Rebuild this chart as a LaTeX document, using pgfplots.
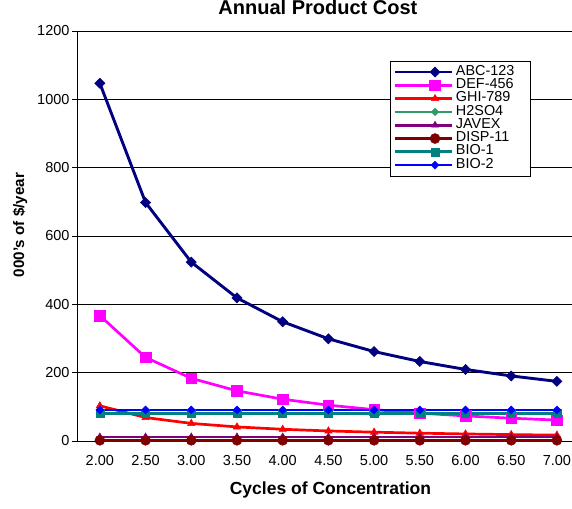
\documentclass[border=0pt]{standalone}
\usepackage{pgfplots}
\pgfplotsset{compat=1.18}
\usepackage{fontspec}
\setmainfont{Liberation Sans}
\definecolor{cNavy}{RGB}{0,0,128}
\definecolor{cMag}{RGB}{255,0,255}
\definecolor{cRed}{RGB}{255,0,0}
\definecolor{cSea}{RGB}{51,153,102}
\definecolor{cPur}{RGB}{128,0,128}
\definecolor{cMar}{RGB}{128,0,0}
\definecolor{cTeal}{RGB}{0,128,128}
\definecolor{cBlue}{RGB}{0,0,255}
\begin{document}
\begin{tikzpicture}[x=1pt,y=1pt]
\useasboundingbox (0,0) rectangle (572,508);
\begin{axis}[
  at={(77pt,67pt)}, anchor=south west,
  scale only axis, width=495pt, height=410pt,
  xmin=-0.5, xmax=10.33, ymin=0, ymax=1200,
  axis x line*=bottom, axis y line*=left,
  axis line style={black, line width=0.9pt},
  clip=false,
  /pgf/number format/assume math mode=true,
  /pgf/number format/set thousands separator={},
  ticklabel style={font=\fontsize{14.5}{16}\selectfont},
  xticklabel style={yshift=-6pt},
  yticklabel style={xshift=1pt},
  ytick={0,200,...,1200},
  ymajorgrids, major grid style={black, line width=0.8pt},
  tick align=outside, major tick length=5pt,
  tick style={black, line width=0.8pt},
  xtick={0,...,10},
  xticklabels={2.00,2.50,3.00,3.50,4.00,4.50,5.00,5.50,6.00,6.50,7.00},
  xtick style={draw=none},
  extra x ticks={-0.5,0.5,1.5,2.5,3.5,4.5,5.5,6.5,7.5,8.5,9.5},
  extra x tick labels={},
  extra x tick style={grid=none, tick style={draw=black, line width=0.8pt}},
  legend cell align=left,
  legend image code/.code={
    \path (-23.7pt,0pt) -- (0pt,0pt);
    \draw[mark repeat=2,mark phase=2,#1] plot coordinates {(0pt,0pt)(16.5pt,0pt)(33pt,0pt)};
  },
  legend style={at={(rel axis cs:0.6323,0.9276)}, anchor=north west,
    draw=black, line width=0.8pt, inner xsep=3pt, inner ysep=4.3pt,
    row sep=0pt, column sep=3pt,
    font=\fontsize{14.4}{14.4}\selectfont,
    nodes={inner sep=0pt, text height=9.8pt, text depth=3.5pt}},
]
\addplot[cNavy, line width=2.9pt, mark=square*, mark size=3.6pt, mark options={rotate=45, solid, line width=0.5pt}] coordinates {
(0,1047) (1,698) (2,523.5) (3,418.8) (4,349) (5,299.1) (6,261.8) (7,232.7) (8,209.4) (9,190.4) (10,174.5)};
\addlegendentry{ABC-123\hspace*{13pt}}
\addplot[cMag, line width=2.7pt, mark=square*, mark size=5.3pt, mark options={solid, line width=0.5pt}] coordinates {
(0,367) (1,244.7) (2,183.5) (3,146.8) (4,122.3) (5,104.9) (6,91.8) (7,81.6) (8,73.4) (9,66.7) (10,61.2)};
\addlegendentry{DEF-456}
\addplot[cRed, line width=2.7pt, mark=triangle*, mark size=4.2pt, mark options={solid, line width=0.5pt}] coordinates {
(0,103) (1,68.7) (2,51.5) (3,41.2) (4,34.3) (5,29.4) (6,25.8) (7,22.9) (8,20.6) (9,18.7) (10,17.2)};
\addlegendentry{GHI-789}
\addplot[cSea, line width=2.7pt, mark=square*, mark size=2.6pt, mark options={rotate=45, solid, line width=0.5pt}] coordinates {
(0,81) (1,81) (2,81) (3,81) (4,81) (5,81) (6,81) (7,81) (8,81) (9,81) (10,81)};
\addlegendentry{H2SO4}
\addplot[cPur, line width=2.7pt, mark=triangle*, mark size=4pt, mark options={solid, line width=0.5pt}] coordinates {
(0,12) (1,12) (2,12) (3,12) (4,12) (5,12) (6,12) (7,12) (8,12) (9,12) (10,12)};
\addlegendentry{JAVEX}
\addplot[cMar, line width=2.7pt, mark=*, mark size=5pt, mark options={solid, line width=0.5pt}] coordinates {
(0,2) (1,2) (2,2) (3,2) (4,2) (5,2) (6,2) (7,2) (8,2) (9,2) (10,2)};
\addlegendentry{DISP-11}
\addplot[cTeal, line width=2.7pt, mark=square*, mark size=4pt, mark options={solid, line width=0.5pt}] coordinates {
(0,81) (1,81) (2,81) (3,81) (4,81) (5,81) (6,81) (7,81) (8,81) (9,81) (10,81)};
\addlegendentry{BIO-1}
\addplot[cBlue, line width=2.7pt, mark=square*, mark size=2.8pt, mark options={rotate=45, solid, line width=0.5pt}] coordinates {
(0,91) (1,91) (2,91) (3,91) (4,91) (5,91) (6,91) (7,91) (8,91) (9,91) (10,91)};
\addlegendentry{BIO-2}
\end{axis}
\node[anchor=base, font=\fontsize{20}{22}\selectfont\bfseries] at (317.9,493) {Annual Product Cost};
\node[anchor=base, font=\fontsize{17.5}{19}\selectfont\bfseries] at (330.5,13.8) {Cycles of Concentration};
\node[anchor=base, rotate=90, font=\fontsize{15.2}{17}\selectfont\bfseries] at (24,283) {000's of \$/year};
\end{tikzpicture}
\end{document}
